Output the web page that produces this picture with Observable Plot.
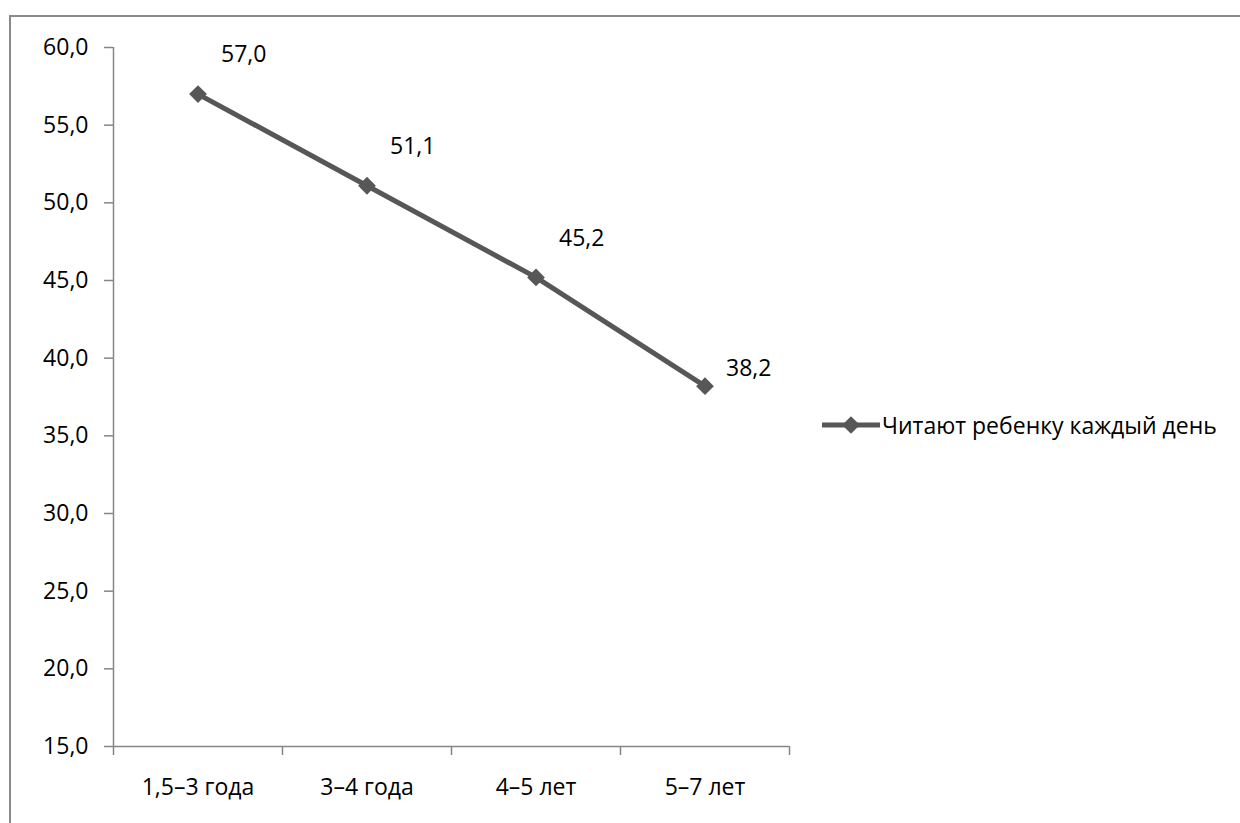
<!DOCTYPE html>
<html><head><meta charset="utf-8">
<script src="https://cdn.jsdelivr.net/npm/d3@7"></script>
<script src="https://cdn.jsdelivr.net/npm/@observablehq/plot@0.6"></script>
<style>
html,body{margin:0;padding:0;background:#fff;overflow:hidden;}
#wrap{position:relative;width:1240px;height:823px;overflow:hidden;font-family:"Open Sans",sans-serif;}
#frame{position:absolute;left:9px;top:15px;width:1300px;height:900px;border:2px solid #8a8a8a;box-sizing:border-box;}
#chart{position:absolute;left:0;top:0;}
#legend{position:absolute;left:822px;top:409px;display:flex;align-items:center;font-size:23px;line-height:32px;color:#000;white-space:nowrap;}
#legend svg{display:block;}
</style></head>
<body><div id="wrap"><div id="frame"></div><div id="chart"></div><div id="legend"></div></div>
<script>
const categories = ["1,5–3 года", "3–4 года", "4–5 лет", "5–7 лет"];
const values = [57.0, 51.1, 45.2, 38.2];
const seriesName = "Читают ребенку каждый день";
const yTicks = [15, 20, 25, 30, 35, 40, 45, 50, 55, 60];
const lineColor = "#575757";
const axisColor = "#868686";

const fmt = v => v.toFixed(1).replace(".", ",");
const data = categories.map((c, i) => ({cat: c, pos: i + 0.5, value: values[i]}));

const chart = Plot.plot({
  width: 1240, height: 823,
  marginLeft: 113, marginRight: 451, marginTop: 47, marginBottom: 77,
  style: {fontFamily: "'Open Sans', sans-serif", fontSize: "23px", color: "#000", background: "transparent"},
  x: {domain: [0, categories.length], axis: null, label: null},
  y: {domain: [15, 60], axis: null, label: null},
  marks: [
    Plot.ruleX([0], {stroke: axisColor, strokeWidth: 1.5}),
    Plot.ruleY([15], {stroke: axisColor, strokeWidth: 1.5}),
    Plot.axisY({ticks: yTicks, tickSize: 9, tickPadding: 16, tickFormat: fmt, stroke: axisColor, strokeWidth: 1.5, fill: "#000", label: null, fontSize: 23}),
    Plot.axisX({ticks: d3.range(categories.length + 1), tickSize: 9, tickFormat: () => "", stroke: axisColor, strokeWidth: 1.5, label: null}),
    Plot.axisX({ticks: data.map(d => d.pos), tickSize: 0, tickPadding: 32, tickFormat: d => categories[Math.floor(d)], fill: "#000", label: null, fontSize: 23}),
    Plot.line(data, {x: "pos", y: "value", stroke: lineColor, strokeWidth: 5}),
    Plot.dot(data, {x: "pos", y: "value", symbol: "diamond2", r: 8, fill: lineColor, stroke: "none"}),
    Plot.text(data.slice(0, 3), {x: "pos", y: "value", text: d => fmt(d.value), textAnchor: "start", dx: 23, dy: -39, fill: "#000", fontSize: 23}),
    Plot.text(data.slice(3), {x: "pos", y: "value", text: d => fmt(d.value), textAnchor: "start", dx: 21, dy: -18, fill: "#000", fontSize: 23})
  ]
});
document.getElementById("chart").appendChild(chart);

// legend
const legend = d3.select("#legend");
const sw = legend.append("svg").attr("width", 60).attr("height", 20);
sw.append("line").attr("x1", 0).attr("x2", 58).attr("y1", 10).attr("y2", 10).attr("stroke", lineColor).attr("stroke-width", 5);
sw.append("path").attr("d", d3.symbol(d3.symbolDiamond2, 200)()).attr("transform", "translate(29,10)").attr("fill", lineColor);
legend.append("span").text(seriesName);
</script>
</body></html>
